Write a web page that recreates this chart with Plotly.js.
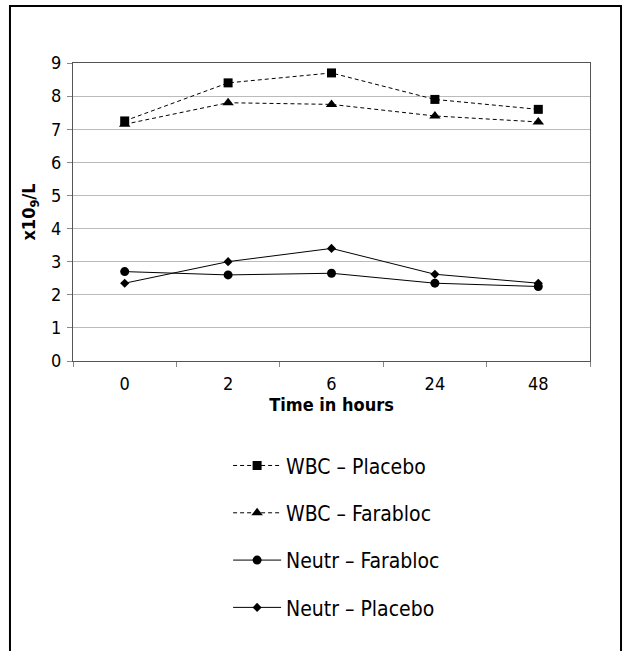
<!DOCTYPE html>
<html>
<head>
<meta charset="utf-8">
<script src="https://cdn.plot.ly/plotly-3.0.1.min.js"></script>
<style>html,body{margin:0;padding:0;background:#fff;}#chart{width:625px;height:651px;}</style>
</head>
<body>
<div id="chart"></div>
<script>
const hours = ["0", "2", "6", "24", "48"];
const wbcPlacebo = [7.25, 8.4, 8.7, 7.9, 7.6];
const wbcFarabloc = [7.15, 7.8, 7.75, 7.4, 7.22];
const neutrFarabloc = [2.7, 2.6, 2.65, 2.35, 2.25];
const neutrPlacebo = [2.35, 3.0, 3.4, 2.62, 2.35];
const seriesNames = ["WBC – Placebo", "WBC – Farabloc", "Neutr – Farabloc", "Neutr – Placebo"];
const yTickVals = [0, 1, 2, 3, 4, 5, 6, 7, 8, 9];

const FONT = '"DejaVu Sans Condensed", "Liberation Sans Narrow", "Arial Narrow", sans-serif';

const traces = [
  {x: hours, y: wbcPlacebo, name: seriesNames[0], legendgroup: 'a', mode: 'lines+markers',
   line: {color: '#000', width: 1, dash: '4px,3px'}, marker: {symbol: 'square', size: 9, color: '#000'}},
  {x: hours, y: wbcFarabloc, name: seriesNames[1], legendgroup: 'b', mode: 'lines+markers',
   line: {color: '#000', width: 1, dash: '4px,3px'}, marker: {symbol: 'triangle-up', size: 10, color: '#000'}},
  {x: hours, y: neutrFarabloc, name: seriesNames[2], legendgroup: 'c', mode: 'lines+markers',
   line: {color: '#000', width: 1}, marker: {symbol: 'circle', size: 9, color: '#000'}},
  {x: hours, y: neutrPlacebo, name: seriesNames[3], legendgroup: 'd', mode: 'lines+markers',
   line: {color: '#000', width: 1}, marker: {symbol: 'diamond', size: 7, color: '#000'}}
];

const layout = {
  width: 625, height: 651,
  margin: {l: 73, r: 35, t: 63, b: 290},
  paper_bgcolor: '#fff', plot_bgcolor: '#fff',
  font: {family: FONT, size: 18, color: '#000'},
  showlegend: true,
  legend: {x: 0.30, xanchor: 'left', y: -0.283, yanchor: 'top', orientation: 'v',
           font: {family: FONT, size: 21, color: '#000'}, itemwidth: 48, tracegroupgap: 17,
           bgcolor: 'rgba(0,0,0,0)'},
  xaxis: {type: 'category', categoryarray: hours, range: [-0.5, 4.5],
          showgrid: false, zeroline: false,
          showline: true, linecolor: '#555', linewidth: 1, mirror: true,
          ticks: 'outside', tickson: 'boundaries', ticklen: 5, tickcolor: '#888',
          tickfont: {family: FONT, size: 18, color: '#000'}, ticklabelstandoff: 6,
          title: {text: '<b>Time in hours</b>', font: {family: FONT, size: 18, color: '#000'}, standoff: 2}},
  yaxis: {range: [0, 9], tickvals: yTickVals, showgrid: true, gridcolor: '#bbb', gridwidth: 1,
          zeroline: false, showline: true, linecolor: '#555', linewidth: 1, mirror: true,
          ticks: 'outside', ticklen: 5, tickcolor: '#888',
          tickfont: {family: FONT, size: 18, color: '#000'}, ticklabelstandoff: 2,
          title: {text: '<b>x10<sub>9</sub>/L</b>', font: {family: FONT, size: 18, color: '#000'}, standoff: 10}},
  shapes: [
    {type: 'rect', xref: 'paper', yref: 'paper', x0: -0.1219, x1: 1.06, y0: -1.05, y1: 1.191,
     line: {color: '#000', width: 2}, fillcolor: 'rgba(0,0,0,0)', layer: 'below'}
  ]
};

Plotly.newPlot('chart', traces, layout, {displayModeBar: false, staticPlot: true});
</script>
</body>
</html>
